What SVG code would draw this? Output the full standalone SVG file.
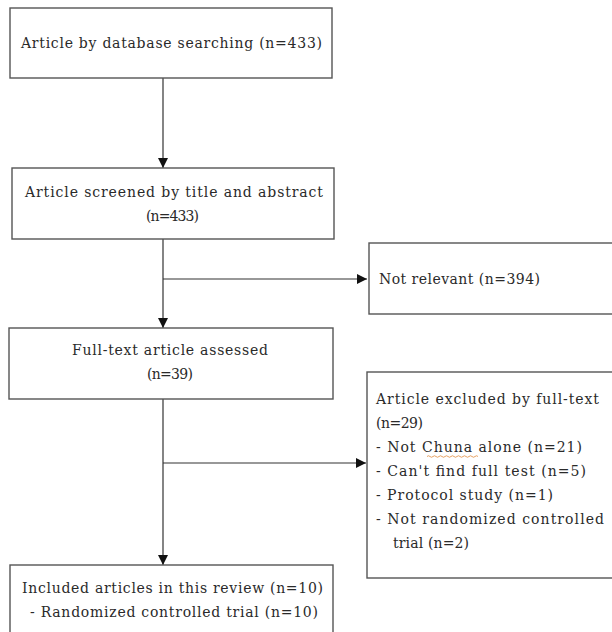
<svg xmlns="http://www.w3.org/2000/svg" width="612" height="632" viewBox="0 0 612 632">
<defs>
<marker id="ah" viewBox="0 0 10 10" refX="10" refY="5" markerWidth="10" markerHeight="10" markerUnits="userSpaceOnUse" orient="auto">
<path d="M0,0 L10,5 L0,10 z" fill="#111"/>
</marker>
<style>
.box{fill:#fff;stroke:#555;stroke-width:1.4}
.t{font-family:"DejaVu Serif","Liberation Serif",serif;font-size:14px;fill:#2a2a2a}
.c{stroke:#333;stroke-width:1.2;fill:none}
</style>
</defs>
<rect width="612" height="632" fill="#fff"/>
<g id="connectors">
<line class="c" x1="163" y1="78" x2="163" y2="168" marker-end="url(#ah)"/>
<line class="c" x1="163" y1="239" x2="163" y2="328" marker-end="url(#ah)"/>
<line class="c" x1="163" y1="279" x2="367" y2="279" marker-end="url(#ah)"/>
<line class="c" x1="163" y1="399" x2="163" y2="565" marker-end="url(#ah)"/>
<line class="c" x1="163" y1="463" x2="366" y2="463" marker-end="url(#ah)"/>
</g>
<g id="n1">
<rect class="box" x="10" y="8" width="322" height="70"/>
<text class="t" x="21" y="48" textLength="301" lengthAdjust="spacing">Article by database searching (n=433)</text>
</g>
<g id="n2">
<rect class="box" x="12" y="168" width="322" height="71"/>
<text class="t" x="25" y="197" textLength="298" lengthAdjust="spacing">Article screened by title and abstract</text>
<text class="t" x="146" y="221" textLength="53" lengthAdjust="spacing">(n=433)</text>
</g>
<g id="n3">
<rect class="box" x="369" y="243" width="250" height="71"/>
<text class="t" x="379" y="284" textLength="161" lengthAdjust="spacing">Not relevant (n=394)</text>
</g>
<g id="n4">
<rect class="box" x="9" y="328" width="324" height="71"/>
<text class="t" x="72" y="355" textLength="196" lengthAdjust="spacing">Full-text article assessed</text>
<text class="t" x="147" y="379" textLength="46" lengthAdjust="spacing">(n=39)</text>
</g>
<g id="n5">
<rect class="box" x="367" y="372" width="250" height="206"/>
<text class="t" x="376" y="404" textLength="223" lengthAdjust="spacing">Article excluded by full-text</text>
<text class="t" x="376" y="428" textLength="47" lengthAdjust="spacing">(n=29)</text>
<text class="t" x="376" y="452" textLength="206" lengthAdjust="spacing">- Not Chuna alone (n=21)</text>
<path d="M427,456.5 q1.5,-1.5 3,0 t3,0 t3,0 t3,0 t3,0 t3,0 t3,0 t3,0 t3,0 t3,0 t3,0 t3,0 t3,0 t3,0 t3,0 t3,0 t3,0" fill="none" stroke="#e08a3c" stroke-width="0.8"/>
<text class="t" x="376" y="476" textLength="210" lengthAdjust="spacing">- Can't find full test (n=5)</text>
<text class="t" x="376" y="500" textLength="177" lengthAdjust="spacing">- Protocol study (n=1)</text>
<text class="t" x="376" y="524" textLength="228" lengthAdjust="spacing">- Not randomized controlled</text>
<text class="t" x="393" y="548" textLength="76" lengthAdjust="spacing">trial (n=2)</text>
</g>
<g id="n6">
<rect class="box" x="10" y="565" width="323" height="80"/>
<text class="t" x="22" y="593" textLength="301" lengthAdjust="spacing">Included articles in this review (n=10)</text>
<text class="t" x="30" y="617" textLength="288" lengthAdjust="spacing">- Randomized controlled trial (n=10)</text>
</g>
</svg>
